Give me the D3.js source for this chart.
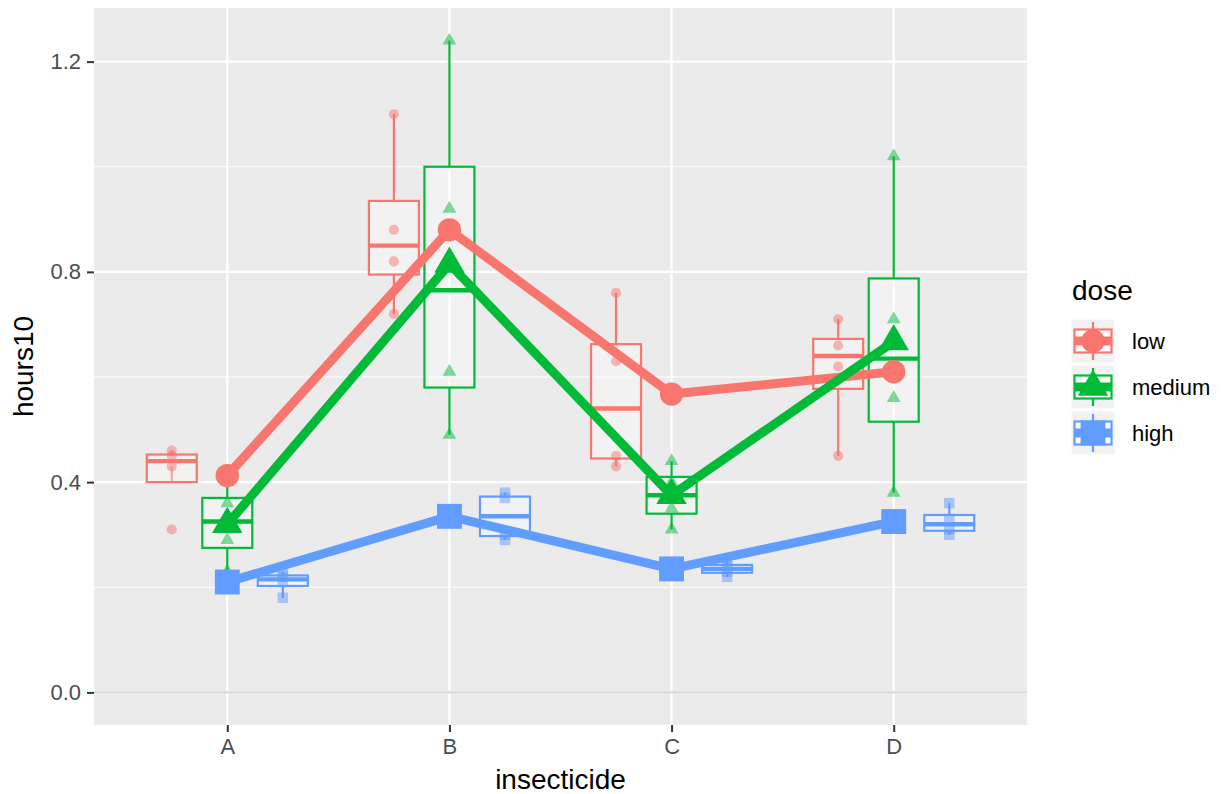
<!DOCTYPE html>
<html>
<head>
<meta charset="utf-8">
<script src="https://cdn.jsdelivr.net/npm/d3@7"></script>
<style>
	body { margin: 0; background: #ffffff; }
	text { font-family: 'Liberation Sans', Arial, sans-serif; }
</style>
</head>
<body>
<div class="svg-container"></div>
<script>
var insecticides = ['A', 'B', 'C', 'D'];
var doses = ['low', 'medium', 'high'];

// hours10 per insecticide (A, B, C, D), four replicates each
var hoursLow = [
	[0.31, 0.45, 0.46, 0.43],
	[0.82, 1.10, 0.88, 0.72],
	[0.43, 0.45, 0.63, 0.76],
	[0.45, 0.71, 0.66, 0.62]
];
var hoursMedium = [
	[0.36, 0.29, 0.40, 0.23],
	[0.92, 0.61, 0.49, 1.24],
	[0.44, 0.35, 0.31, 0.40],
	[0.56, 1.02, 0.71, 0.38]
];
var hoursHigh = [
	[0.22, 0.21, 0.18, 0.23],
	[0.30, 0.37, 0.38, 0.29],
	[0.23, 0.25, 0.24, 0.22],
	[0.30, 0.36, 0.31, 0.33]
];
var yTicks = [0, 0.4, 0.8, 1.2];
var yMinorTicks = [0.2, 0.6, 1.0];

var hoursByDose = [hoursLow, hoursMedium, hoursHigh];
var colours = ['#F8766D', '#00BA38', '#619CFF'];
var symbols = [d3.symbolCircle, d3.symbolTriangle, d3.symbolSquare];
var smallSizes = [80, 82, 110];
var bigSizes = [430, 400, 620];

var width = 1222;
var height = 794;
var panel = { left: 94, right: 1027, top: 8, bottom: 725 };

var svg = d3.select('.svg-container')
	.append('svg')
	.attr('width', width)
	.attr('height', height);

// Set up scales
var xScale = d3.scalePoint()
	.domain(insecticides)
	.range([panel.left, panel.right])
	.padding(0.6);
var step = xScale.step();

var yScale = d3.scaleLinear()
	.domain([-0.062, 1.302])
	.range([panel.bottom, panel.top]);

function dodge(doseIndex) {
	return (doseIndex - 1) * 0.25 * step;
}
var boxWidth = 0.225 * step;

// Panel background and grid
svg.append('rect')
	.attr('x', panel.left)
	.attr('y', panel.top)
	.attr('width', panel.right - panel.left)
	.attr('height', panel.bottom - panel.top)
	.attr('fill', '#EBEBEB');

svg.selectAll('line.minor')
	.data(yMinorTicks)
	.enter()
	.append('line')
	.attr('class', 'minor')
	.attr('x1', panel.left)
	.attr('x2', panel.right)
	.attr('y1', function(d) { return yScale(d); })
	.attr('y2', function(d) { return yScale(d); })
	.attr('stroke', '#ffffff')
	.attr('stroke-width', 1.1);

svg.selectAll('line.major-y')
	.data(yTicks)
	.enter()
	.append('line')
	.attr('class', 'major-y')
	.attr('x1', panel.left)
	.attr('x2', panel.right)
	.attr('y1', function(d) { return yScale(d); })
	.attr('y2', function(d) { return yScale(d); })
	.attr('stroke', '#ffffff')
	.attr('stroke-width', 2.2);

svg.selectAll('line.major-x')
	.data(insecticides)
	.enter()
	.append('line')
	.attr('class', 'major-x')
	.attr('x1', function(d) { return xScale(d); })
	.attr('x2', function(d) { return xScale(d); })
	.attr('y1', panel.top)
	.attr('y2', panel.bottom)
	.attr('stroke', '#ffffff')
	.attr('stroke-width', 2.2);

// Zero reference line
svg.append('line')
	.attr('x1', panel.left)
	.attr('x2', panel.right)
	.attr('y1', yScale(0))
	.attr('y2', yScale(0))
	.attr('stroke', '#D3D3D3')
	.attr('stroke-width', 1.6);

// Box statistics
var boxes = [];
insecticides.forEach(function(ins, i) {
	doses.forEach(function(dose, j) {
		var vals = hoursByDose[j][i].slice().sort(d3.ascending);
		var q1 = d3.quantile(vals, 0.25);
		var med = d3.quantile(vals, 0.5);
		var q3 = d3.quantile(vals, 0.75);
		var iqr = q3 - q1;
		var lo = d3.min(vals.filter(function(v) { return v >= q1 - 1.5 * iqr; }));
		var hi = d3.max(vals.filter(function(v) { return v <= q3 + 1.5 * iqr; }));
		boxes.push({ ins: ins, dose: j, q1: q1, med: med, q3: q3, lo: lo, hi: hi, values: vals });
	});
});

// Draw boxplots
var boxGroups = svg.selectAll('g.box')
	.data(boxes)
	.enter()
	.append('g')
	.attr('class', 'box')
	.attr('stroke', function(d) { return colours[d.dose]; })
	.attr('transform', function(d) {
		return 'translate(' + (xScale(d.ins) + dodge(d.dose)) + ',0)';
	});

boxGroups.append('line')
	.attr('y1', function(d) { return yScale(d.hi); })
	.attr('y2', function(d) { return yScale(d.q3); })
	.attr('stroke-width', 2.2);

boxGroups.append('line')
	.attr('y1', function(d) { return yScale(d.lo); })
	.attr('y2', function(d) { return yScale(d.q1); })
	.attr('stroke-width', 2.2);

boxGroups.append('rect')
	.attr('x', -boxWidth / 2)
	.attr('width', boxWidth)
	.attr('y', function(d) { return yScale(d.q3); })
	.attr('height', function(d) { return yScale(d.q1) - yScale(d.q3); })
	.attr('fill', 'rgba(255,255,255,0.35)')
	.attr('stroke-width', 2.2);

boxGroups.append('line')
	.attr('x1', -boxWidth / 2)
	.attr('x2', boxWidth / 2)
	.attr('y1', function(d) { return yScale(d.med); })
	.attr('y2', function(d) { return yScale(d.med); })
	.attr('stroke-width', 4.4);

// Raw points
var points = [];
boxes.forEach(function(b) {
	b.values.forEach(function(v) {
		points.push({ ins: b.ins, dose: b.dose, value: v });
	});
});

svg.selectAll('path.raw')
	.data(points)
	.enter()
	.append('path')
	.attr('class', 'raw')
	.attr('d', function(d) {
		return d3.symbol().type(symbols[d.dose]).size(smallSizes[d.dose])();
	})
	.attr('transform', function(d) {
		return 'translate(' + (xScale(d.ins) + dodge(d.dose)) + ',' + yScale(d.value) + ')';
	})
	.attr('fill', function(d) { return colours[d.dose]; })
	.attr('fill-opacity', 0.5);

// Mean lines
var means = doses.map(function(dose, j) {
	return insecticides.map(function(ins, i) {
		return { ins: ins, dose: j, value: d3.mean(hoursByDose[j][i]) };
	});
});

var line = d3.line()
	.x(function(d) { return xScale(d.ins); })
	.y(function(d) { return yScale(d.value); });

svg.selectAll('path.mean-line')
	.data(means)
	.enter()
	.append('path')
	.attr('class', 'mean-line')
	.attr('d', line)
	.attr('fill', 'none')
	.attr('stroke', function(d, i) { return colours[i]; })
	.attr('stroke-width', 9)
	.attr('stroke-linejoin', 'round');

// Mean points
svg.selectAll('path.mean-point')
	.data(d3.merge(means))
	.enter()
	.append('path')
	.attr('class', 'mean-point')
	.attr('d', function(d) {
		return d3.symbol().type(symbols[d.dose]).size(bigSizes[d.dose])();
	})
	.attr('transform', function(d) {
		return 'translate(' + xScale(d.ins) + ',' + yScale(d.value) + ')';
	})
	.attr('fill', function(d) { return colours[d.dose]; });

// Axes
var yAxis = svg.append('g')
	.attr('transform', 'translate(' + panel.left + ',0)')
	.call(d3.axisLeft(yScale)
		.tickValues(yTicks)
		.tickFormat(d3.format('.1f'))
		.tickSize(7)
		.tickPadding(6));

var xAxis = svg.append('g')
	.attr('transform', 'translate(0,' + panel.bottom + ')')
	.call(d3.axisBottom(xScale)
		.tickSize(7)
		.tickPadding(6));

[xAxis, yAxis].forEach(function(axis) {
	axis.select('.domain').remove();
	axis.selectAll('.tick line')
		.attr('stroke', '#333333')
		.attr('stroke-width', 2);
	axis.selectAll('.tick text')
		.attr('fill', '#4D4D4D')
		.style('font-size', '22px');
});

// Axis titles
svg.append('text')
	.attr('x', (panel.left + panel.right) / 2)
	.attr('y', 789)
	.attr('text-anchor', 'middle')
	.style('font-size', '28px')
	.text('insecticide');

svg.append('text')
	.attr('transform', 'translate(33,' + (panel.top + panel.bottom) / 2 + ') rotate(-90)')
	.attr('text-anchor', 'middle')
	.style('font-size', '28px')
	.text('hours10');

// Legend
var legend = svg.append('g')
	.attr('transform', 'translate(1070,0)');

legend.append('text')
	.attr('x', 2)
	.attr('y', 300)
	.style('font-size', '28px')
	.text('dose');

var keys = legend.selectAll('g.key')
	.data(doses)
	.enter()
	.append('g')
	.attr('class', 'key')
	.attr('transform', function(d, i) {
		return 'translate(0,' + (318 + i * 46) + ')';
	});

keys.append('rect')
	.attr('width', 46)
	.attr('height', 46)
	.attr('fill', '#F2F2F2')
	.attr('stroke', '#ffffff')
	.attr('stroke-width', 3);

keys.append('line')
	.attr('x1', 23)
	.attr('x2', 23)
	.attr('y1', 4)
	.attr('y2', 42)
	.attr('stroke', function(d, i) { return colours[i]; })
	.attr('stroke-width', 2.2);

keys.append('rect')
	.attr('x', 4.5)
	.attr('y', 11.5)
	.attr('width', 37)
	.attr('height', 23)
	.attr('fill', '#ffffff')
	.attr('stroke', function(d, i) { return colours[i]; })
	.attr('stroke-width', 2.2);

keys.append('line')
	.attr('x1', 4.5)
	.attr('x2', 41.5)
	.attr('y1', 23)
	.attr('y2', 23)
	.attr('stroke', function(d, i) { return colours[i]; })
	.attr('stroke-width', 9);

keys.append('path')
	.attr('d', function(d, i) {
		return d3.symbol().type(symbols[i]).size(bigSizes[i])();
	})
	.attr('transform', 'translate(23,23)')
	.attr('fill', function(d, i) { return colours[i]; });

keys.append('text')
	.attr('x', 62)
	.attr('y', 31)
	.style('font-size', '22px')
	.text(function(d) { return d; });
</script>
</body>
</html>
